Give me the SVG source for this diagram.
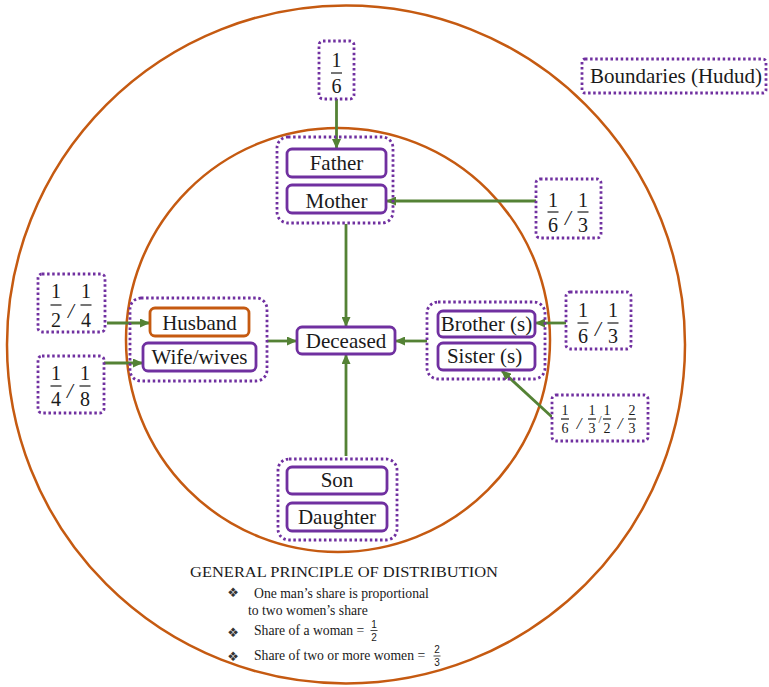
<svg xmlns="http://www.w3.org/2000/svg" width="769" height="687" viewBox="0 0 769 687">
<defs>
<marker id="ah" markerUnits="userSpaceOnUse" markerWidth="10" markerHeight="9" refX="9" refY="4.5" orient="auto">
<path d="M0,0 L10,4.5 L0,9 z" fill="#548235"/>
</marker>
<style>
.ring{fill:none;stroke:#C55A11;stroke-width:2.5}
.node{fill:#fff;stroke:#7030A0;stroke-width:2.8}
.nodeo{fill:#fff;stroke:#C55A11;stroke-width:2.8}
.grp{fill:none;stroke:#7030A0;stroke-width:2.8;stroke-dasharray:2.5 2.6}
.fbox{fill:#fff;stroke:#7030A0;stroke-width:2.8;stroke-dasharray:2.5 2.6}
.lbl{font-family:"Liberation Serif","Times New Roman",serif;font-size:21px;fill:#1a1a1a;text-anchor:middle}
.fr{font-family:"Liberation Serif","Times New Roman",serif;font-size:20px;fill:#1a1a1a;text-anchor:middle}
.sl{font-family:"Liberation Serif","Times New Roman",serif;font-size:21px;fill:#1a1a1a;text-anchor:middle;font-style:italic}
.frs{font-family:"Liberation Serif","Times New Roman",serif;font-size:14px;fill:#1a1a1a;text-anchor:middle}
.bar{stroke:#1a1a1a;stroke-width:1.2}
.con{fill:none;stroke:#548235;stroke-width:2.8;marker-end:url(#ah)}
.txt{font-family:"Liberation Serif","Times New Roman",serif;font-size:13.7px;fill:#1a1a1a}
.bul{font-family:"DejaVu Sans",sans-serif;font-size:13px;fill:#333;text-anchor:middle}
.tiny{font-family:"Liberation Sans",Arial,sans-serif;font-size:10px;fill:#1a1a1a;text-anchor:middle}
</style>
</defs>
<rect width="769" height="687" fill="#fff"/>
<circle class="ring" cx="346" cy="344.5" r="339"/>
<circle class="ring" cx="338" cy="340" r="212"/>

<g id="connectors">
<line class="con" x1="336.5" y1="99" x2="336.5" y2="148"/>
<line class="con" x1="536" y1="201" x2="387" y2="201"/>
<line class="con" x1="346" y1="224" x2="346" y2="326"/>
<line class="con" x1="267" y1="341" x2="296" y2="341"/>
<line class="con" x1="427" y1="341" x2="396" y2="341"/>
<line class="con" x1="346" y1="456" x2="346" y2="355"/>
<line class="con" x1="107" y1="323" x2="149" y2="323"/>
<line class="con" x1="104" y1="363" x2="142" y2="363"/>
<line class="con" x1="566" y1="323" x2="536" y2="323"/>
<line class="con" x1="552" y1="417" x2="502" y2="371"/>
</g>

<g id="boundaries">
<rect class="fbox" x="582" y="59" width="184" height="34" rx="3"/>
<text class="lbl" x="590" y="83" style="text-anchor:start">Boundaries (Hudud)</text>
</g>

<g id="parents">
<rect class="grp" x="277" y="137" width="116" height="86" rx="11"/>
<g id="father">
<rect class="node" x="287" y="149" width="99" height="28" rx="5"/>
<text class="lbl" x="336.5" y="169.5">Father</text>
</g>
<g id="mother">
<rect class="node" x="287" y="185" width="99" height="28" rx="5"/>
<text class="lbl" x="336.5" y="207.5">Mother</text>
</g>
</g>

<g id="deceased">
<rect class="node" x="297" y="327" width="98" height="27" rx="5"/>
<text class="lbl" x="346" y="348">Deceased</text>
</g>

<g id="spouses">
<rect class="grp" x="130" y="298" width="137" height="83" rx="11"/>
<g id="husband">
<rect class="nodeo" x="150" y="308" width="99" height="28" rx="5"/>
<text class="lbl" x="199.5" y="329.5">Husband</text>
</g>
<g id="wife">
<rect class="node" x="143" y="343" width="113" height="28" rx="5"/>
<text class="lbl" x="199.5" y="364">Wife/wives</text>
</g>
</g>

<g id="siblings">
<rect class="grp" x="427" y="302" width="118" height="77" rx="11"/>
<g id="brother">
<rect class="node" x="438" y="311" width="97" height="26" rx="5"/>
<text class="lbl" x="486.5" y="331">Brother (s)</text>
</g>
<g id="sister">
<rect class="node" x="438" y="343" width="97" height="27" rx="5"/>
<text class="lbl" x="484.5" y="363">Sister (s)</text>
</g>
</g>

<g id="children">
<rect class="grp" x="278" y="459" width="119" height="81" rx="11"/>
<g id="son">
<rect class="node" x="287" y="467" width="100" height="27" rx="5"/>
<text class="lbl" x="337" y="487">Son</text>
</g>
<g id="daughter">
<rect class="node" x="287" y="503" width="100" height="28" rx="5"/>
<text class="lbl" x="337" y="524">Daughter</text>
</g>
</g>

<g id="frac-father">
<rect class="fbox" x="319" y="41" width="35" height="58" rx="4"/>
<text class="fr" x="336.5" y="67">1</text>
<line class="bar" x1="331" y1="73" x2="342" y2="73"/>
<text class="fr" x="336.5" y="93">6</text>
</g>

<g id="frac-mother">
<rect class="fbox" x="536" y="179" width="65" height="59" rx="4"/>
<text class="fr" x="553" y="207">1</text>
<line class="bar" x1="547.5" y1="212" x2="558.5" y2="212"/>
<text class="fr" x="553" y="232">6</text>
<text class="sl" x="568" y="225">/</text>
<text class="fr" x="583" y="207">1</text>
<line class="bar" x1="577.5" y1="212" x2="588.5" y2="212"/>
<text class="fr" x="583" y="232">3</text>
</g>

<g id="frac-husband">
<rect class="fbox" x="38" y="274" width="67" height="58" rx="4"/>
<text class="fr" x="56" y="298">1</text>
<line class="bar" x1="50.5" y1="305" x2="61.5" y2="305"/>
<text class="fr" x="56" y="327">2</text>
<text class="sl" x="71" y="318">/</text>
<text class="fr" x="86" y="298">1</text>
<line class="bar" x1="80.5" y1="305" x2="91.5" y2="305"/>
<text class="fr" x="86" y="327">4</text>
</g>

<g id="frac-wife">
<rect class="fbox" x="38" y="356" width="66" height="57" rx="4"/>
<text class="fr" x="56" y="380">1</text>
<line class="bar" x1="50.5" y1="386" x2="61.5" y2="386"/>
<text class="fr" x="56" y="406">4</text>
<text class="sl" x="70" y="398">/</text>
<text class="fr" x="85" y="380">1</text>
<line class="bar" x1="79.5" y1="386" x2="90.5" y2="386"/>
<text class="fr" x="85" y="406">8</text>
</g>

<g id="frac-brother">
<rect class="fbox" x="566" y="292" width="65" height="57" rx="4"/>
<text class="fr" x="583" y="317">1</text>
<line class="bar" x1="577.5" y1="323" x2="588.5" y2="323"/>
<text class="fr" x="583" y="343">6</text>
<text class="sl" x="598" y="336">/</text>
<text class="fr" x="613" y="317">1</text>
<line class="bar" x1="607.5" y1="323" x2="618.5" y2="323"/>
<text class="fr" x="613" y="343">3</text>
</g>

<g id="frac-sister">
<rect class="fbox" x="552" y="395" width="96" height="46" rx="4"/>
<text class="frs" x="565" y="415">1</text>
<line class="bar" x1="561" y1="419" x2="569" y2="419"/>
<text class="frs" x="565" y="433">6</text>
<text class="sl" x="579" y="429" style="font-size:17px">/</text>
<text class="frs" x="592" y="415">1</text>
<line class="bar" x1="588" y1="419" x2="596" y2="419"/>
<text class="frs" x="592" y="433">3</text>
<text class="frs" x="600" y="423" style="font-size:11px">/</text>
<text class="frs" x="607" y="415">1</text>
<line class="bar" x1="603" y1="419" x2="611" y2="419"/>
<text class="frs" x="607" y="433">2</text>
<text class="sl" x="620" y="429" style="font-size:17px">/</text>
<text class="frs" x="632" y="415">2</text>
<line class="bar" x1="628" y1="419" x2="636" y2="419"/>
<text class="frs" x="632" y="433">3</text>
</g>

<g id="principles">
<text x="190" y="577" textLength="308" lengthAdjust="spacingAndGlyphs" style="font-family:'Liberation Serif','Times New Roman',serif;font-size:15px;fill:#1a1a1a">GENERAL PRINCIPLE OF DISTRIBUTION</text>
<text class="bul" x="233" y="597">❖</text>
<text class="txt" x="254" y="598">One man’s share is proportional</text>
<text class="txt" x="248" y="615">to two women’s share</text>
<text class="bul" x="233" y="637">❖</text>
<text class="txt" x="254" y="635">Share of a woman =</text>
<text class="tiny" x="374" y="628">1</text>
<line class="bar" x1="370.5" y1="630.5" x2="377.5" y2="630.5" style="stroke-width:0.8"/>
<text class="tiny" x="374" y="641">2</text>
<text class="bul" x="233" y="661">❖</text>
<text class="txt" x="254" y="660">Share of two or more women =</text>
<text class="tiny" x="437" y="653">2</text>
<line class="bar" x1="433.5" y1="656" x2="440.5" y2="656" style="stroke-width:0.8"/>
<text class="tiny" x="437" y="666">3</text>
</g>
</svg>
